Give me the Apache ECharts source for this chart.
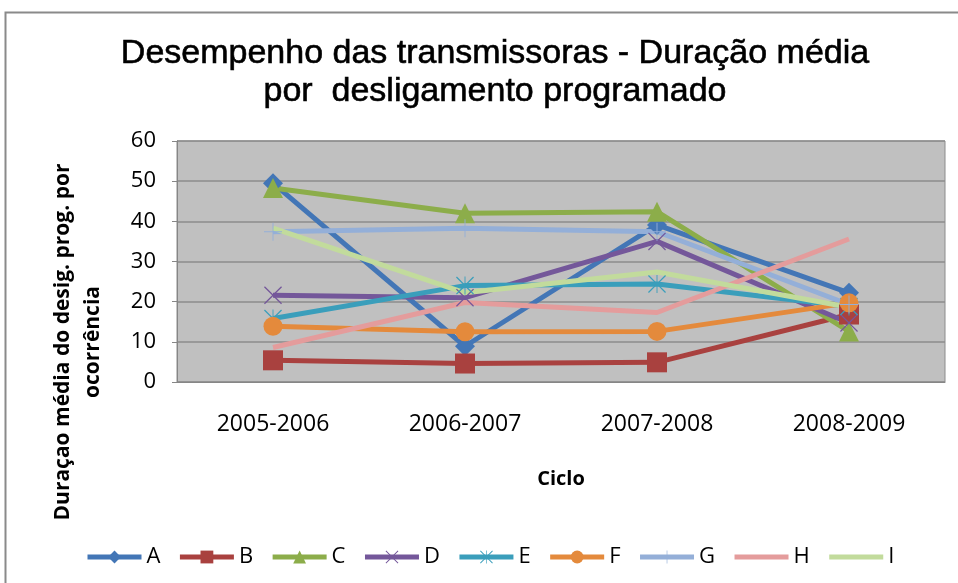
<!DOCTYPE html>
<html>
<head>
<meta charset="utf-8">
<script src="https://cdn.jsdelivr.net/npm/echarts@6/dist/echarts.min.js"></script>
<style>
  html, body { margin: 0; padding: 0; background: #fff; }
  #chart { width: 958px; height: 583px; }
</style>
</head>
<body>
<div id="chart"></div>
<script>
// dados
const ciclos = ["2005-2006", "2006-2007", "2007-2008", "2008-2009"]
const serieA = [49.5, 8.9, 39.1, 22.2]
const serieB = [5.4, 4.6, 4.9, 16.8]
const serieC = [48.3, 42.0, 42.4, 12.6]
const serieD = [21.6, 21.0, 35.0, 14.7]
const serieE = [15.8, 24.0, 24.4, 18.8]
const serieF = [13.9, 12.5, 12.6, 19.7]
const serieG = [37.4, 38.3, 37.4, 19.3]
const serieH = [8.6, 19.8, 17.3, 35.6]
const serieI = [38.3, 22.2, 27.4, 18.6]
const yTicks = { min: 0, max: 60, interval: 10 }

// marcadores finos (x, asterisco, mais)
const xMark = "path://M0,1 L1,0 L10,9 L19,0 L20,1 L11,10 L20,19 L19,20 L10,11 L1,20 L0,19 L9,10 Z"
const starMark = "path://M0,1 L1,0 L9.5,8.5 L9.5,0 L10.5,0 L10.5,8.5 L19,0 L20,1 L11,10 L20,19 L19,20 L10.5,11.5 L10.5,20 L9.5,20 L9.5,11.5 L1,20 L0,19 L9,10 Z"
const plusMark = "path://M9.5,0 L10.5,0 L10.5,9.5 L20,9.5 L20,10.5 L10.5,10.5 L10.5,20 L9.5,20 L9.5,10.5 L0,10.5 L0,9.5 L9.5,9.5 Z"

function linha(nome, dados, cor, simbolo, tam) {
  return {
    name: nome,
    type: "line",
    data: dados,
    color: cor,
    symbol: simbolo,
    symbolSize: tam,
    showSymbol: simbolo !== "none",
    lineStyle: { width: 5, color: cor },
    itemStyle: { color: cor },
    emphasis: { disabled: true }
  }
}

const myChart = echarts.init(document.getElementById("chart"))

const option = {
  animation: false,
  backgroundColor: "#fff",
  title: {
    text: "Desempenho das transmissoras - Duração média\npor  desligamento programado",
    left: 490,
    top: 30,
    textAlign: "center",
    textStyle: {
      fontFamily: "Liberation Sans",
      fontSize: 34,
      fontWeight: "normal",
      color: "#000",
      textBorderColor: "#000",
      textBorderWidth: 0.6,
      lineHeight: 38
    }
  },
  graphic: [
    {
      type: "rect",
      shape: { x: 5.5, y: 12.5, width: 960, height: 580 },
      style: { fill: "none", stroke: "#8a8a8a", lineWidth: 2 },
      silent: true
    },
    {
      type: "text",
      x: 78,
      y: 342,
      rotation: Math.PI / 2,
      style: {
        text: "Duraçao média do desig. prog. por\nocorrência",
        fontFamily: "Open Sans",
        fontSize: 21,
        fontWeight: "bold",
        fill: "#000",
        align: "center",
        verticalAlign: "middle",
        lineHeight: 30
      }
    }
  ],
  legend: {
    left: 80,
    top: 541,
    itemWidth: 54,
    itemHeight: 16,
    itemGap: 17,
    lineStyle: { width: 5 },
    textStyle: { fontFamily: "Open Sans", fontSize: 22, color: "#000" },
    data: ["A", "B", "C", "D", "E", "F", "G",
      { name: "H", itemStyle: { opacity: 0 } },
      { name: "I", itemStyle: { opacity: 0 } }]
  },
  grid: {
    left: 177,
    right: 13,
    top: 141,
    bottom: 201,
    show: true,
    backgroundColor: "#c0c0c0",
    borderColor: "#8c8c8c",
    borderWidth: 1
  },
  xAxis: {
    type: "category",
    data: ciclos,
    boundaryGap: true,
    name: "Ciclo",
    nameLocation: "middle",
    nameGap: 87,
    nameTextStyle: { fontFamily: "Open Sans", fontSize: 20, fontWeight: "bold", color: "#000" },
    axisLine: { lineStyle: { color: "#868686" } },
    axisTick: { show: false },
    axisLabel: { fontFamily: "Open Sans", fontSize: 23, color: "#000", margin: 31 },
    splitLine: { show: false }
  },
  yAxis: {
    type: "value",
    min: yTicks.min,
    max: yTicks.max,
    interval: yTicks.interval,
    axisLine: { show: true, lineStyle: { color: "#868686" } },
    axisTick: { show: true, length: 5, lineStyle: { color: "#868686" } },
    axisLabel: { fontFamily: "Open Sans", fontSize: 22, color: "#000", margin: 21 },
    splitLine: { lineStyle: { color: "#8c8c8c", width: 1.5 } }
  },
  series: [
    linha("A", serieA, "#4376b6", "diamond", 20),
    linha("B", serieB, "#a9413f", "rect", 20),
    linha("C", serieC, "#8cad4a", "triangle", 20),
    linha("D", serieD, "#74579a", xMark, 18),
    linha("E", serieE, "#3a9ebb", starMark, 18),
    linha("F", serieF, "#e48a3c", "circle", 19),
    linha("G", serieG, "#94afd8", plusMark, 18),
    linha("H", serieH, "#e49c9c", "none", 0),
    linha("I", serieI, "#c2db9c", "none", 0)
  ]
}

myChart.setOption(option)

window.onresize = () => {
  myChart.resize()
}
</script>
</body>
</html>
